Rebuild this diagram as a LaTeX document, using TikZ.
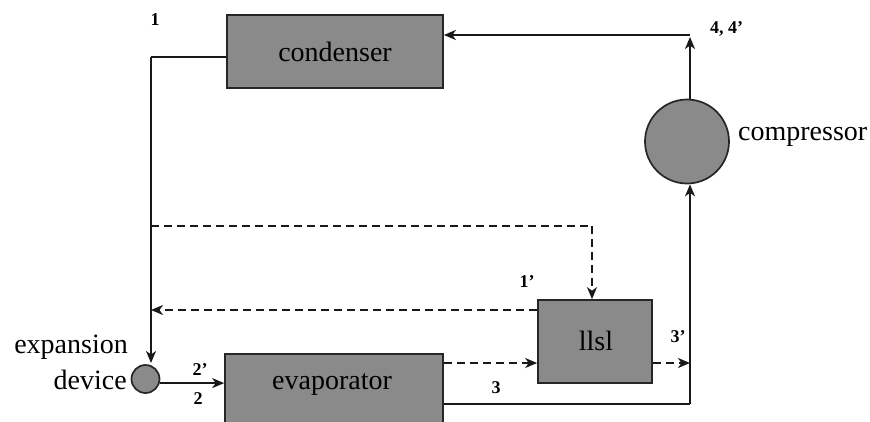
\documentclass[tikz,border=0pt]{standalone}
\usepackage{fontspec}
\setmainfont{Liberation Serif}
\usetikzlibrary{arrows.meta,calc}
\definecolor{unitgray}{RGB}{138,138,138}
\begin{document}
\begin{tikzpicture}[x=1pt,y=-1pt,
  unit/.style={draw=black!85,line width=1.7pt,fill=unitgray,inner sep=0pt},
  pipe/.style={line width=1.8pt,black!90},
  bypass/.style={pipe,dash pattern=on 8pt off 5pt},
  flow/.style={-{Stealth[length=12pt,width=10pt,inset=3.5pt]}},
  big/.style={font=\fontsize{28}{30}\selectfont},
  tag/.style={font=\fontsize{18}{19}\selectfont\bfseries,inner sep=0pt}]
\useasboundingbox (0,0) rectangle (870,421);
\clip (0,0) rectangle (870,421);

% components
\node[unit,rectangle,minimum width=216pt,minimum height=73pt] (cond) at (335,51.5) {};
\node[big] (condtext) at (335,51.5) {condenser};
\node[unit,circle,minimum size=84pt] (comp) at (687,141.5) {};
\node[big,anchor=base west,inner sep=0pt] (comptext) at (738,140) {compressor};
\node[unit,rectangle,minimum width=218pt,minimum height=90pt,anchor=north] (evap) at (334,353) {};
\node[big] (evaptext) at (332,385) {evaporator};
\node[unit,rectangle,minimum width=114pt,minimum height=83pt] (llsl) at (595,341.5) {};
\node[big] (llsltext) at (596,341) {llsl};
\node[unit,circle,minimum size=28pt] (expdev) at (145.5,379) {};
\node[big,anchor=base east,inner sep=0pt] (expA) at (128,353) {expansion};
\node[big,anchor=base east,inner sep=0pt] (expB) at (127,389) {device};

% pipe corners
\coordinate (c1) at (151,57);
\coordinate (c1end) at (151,363);
\coordinate (c4) at (690,35);
\coordinate (c4up) at (690,37);
\coordinate (c3) at (690,404);
\coordinate (b1) at (151,226);
\coordinate (b2) at (592,226);

% main cycle (solid)
\draw[pipe] (cond.west |- c1) -- (c1);
\draw[pipe,flow] (c1) -- (c1end);
\draw[pipe,flow] (expdev.-16) -- (expdev.-16 -| evap.west);
\draw[pipe] (evap.east |- c3) -- (c3);
\draw[pipe,flow] (c3) -- (c3 |- comp.south);
\draw[pipe,flow] (c3 |- comp.north) -- (c4up);
\draw[pipe,flow] (c4) -- (c4 -| cond.east);

% liquid-line/suction-line branch (dashed)
\draw[bypass] (b1) -- (b2);
\draw[bypass,flow] (b2) -- (b2 |- llsl.north);
\draw[bypass,flow] (llsl.west |- 0,310) -- (151,310);
\draw[bypass,flow] (evap.east |- 0,363) -- (llsl.west |- 0,363);
\draw[bypass,flow] (llsl.east |- 0,363) -- (c3 |- 0,363);

% state points
\node[tag] (p1) at (155,20) {1};
\node[tag,anchor=west] (p4) at (710,29) {4, 4’};
\node[tag] (p2a) at (200,370) {2’};
\node[tag] (p2) at (198,399) {2};
\node[tag] (p1a) at (527,282) {1’};
\node[tag] (p3) at (496,388) {3};
\node[tag] (p3a) at (678,337) {3’};
\end{tikzpicture}
\end{document}
